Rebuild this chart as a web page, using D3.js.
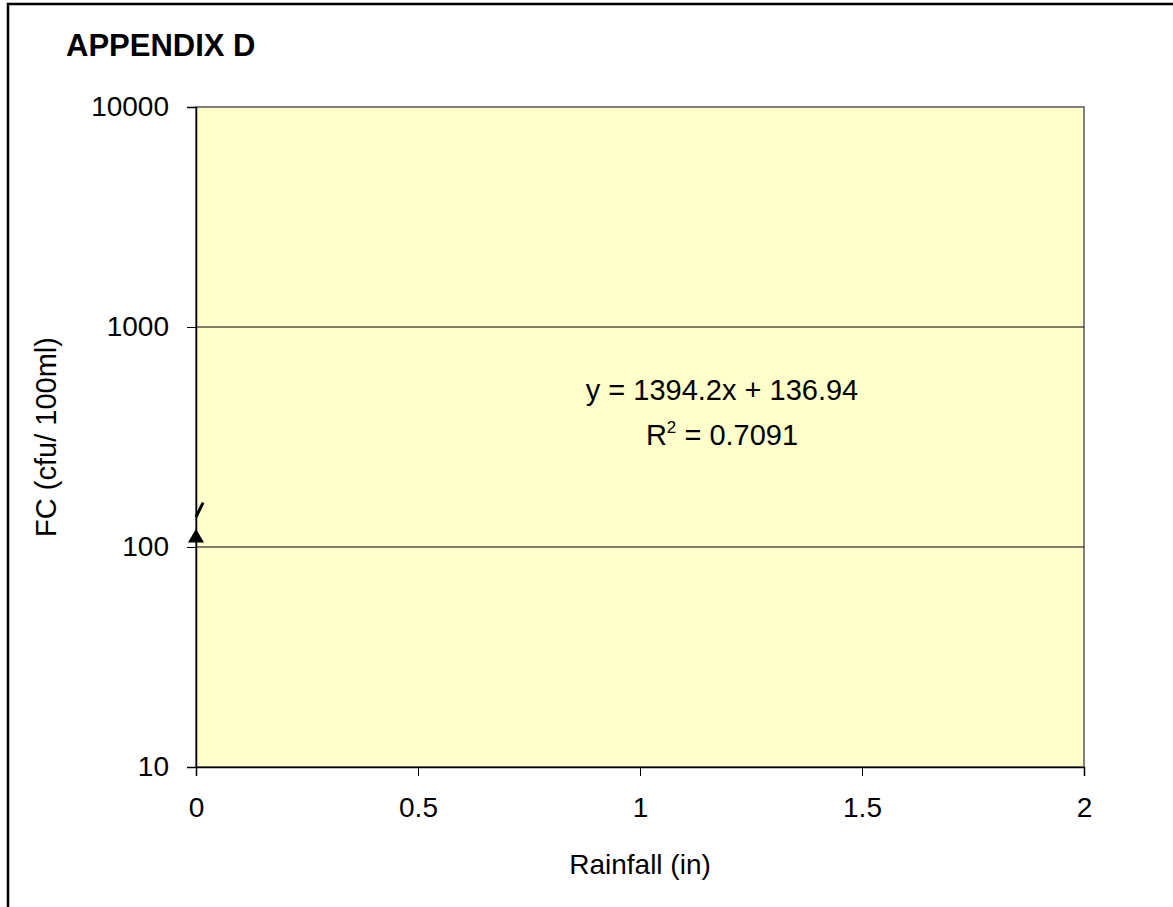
<!DOCTYPE html>
<html><head><meta charset="utf-8">
<script src="https://cdn.jsdelivr.net/npm/d3@7"></script>
<style>body{margin:0;background:#fff}svg{display:block}text{font-family:"Liberation Sans",Arial,sans-serif;fill:#000}</style>
</head><body><svg id="c" width="1173" height="907"></svg>
<script>
const rainfall = [0];
const fc = [110];
const xTicks = [0, 0.5, 1, 1.5, 2];
const yTicks = [10, 100, 1000, 10000];
const trendSlope = 1394.2, trendIntercept = 136.94;
const trendRange = [0, 0.016];
const eqText = "y = 1394.2x + 136.94";
const r2Value = "0.7091";

const svg = d3.select("#c");
const L = 196, R = 1084, T = 107, B = 767;
const FS = 28;
const x = d3.scaleLinear().domain([0, 2]).range([L, R]);
const y = d3.scaleLog().domain([10, 10000]).range([B, T]);

// outer frame
svg.append("rect").attr("x", 8).attr("y", 4).attr("width", 1300).attr("height", 1100)
  .attr("fill", "none").attr("stroke", "#000").attr("stroke-width", 2.5);

svg.append("text").attr("x", 66).attr("y", 56).attr("font-size", 31).attr("font-weight", "bold").text("APPENDIX D");

svg.append("rect").attr("x", L).attr("y", T).attr("width", R - L).attr("height", B - T)
  .attr("fill", "#FFFFCC").attr("stroke", "#808080").attr("stroke-width", 2);

// gridlines
svg.append("g").selectAll("line").data(yTicks.filter(d => d > 10 && d < 10000)).join("line")
  .attr("x1", L).attr("x2", R).attr("y1", d => y(d)).attr("y2", d => y(d))
  .attr("stroke", "#000").attr("stroke-width", 1);

const yAxis = d3.axisLeft(y).tickValues(yTicks).tickFormat(d3.format("d")).tickSize(9).tickPadding(18);
const gy = svg.append("g").attr("transform", `translate(${L},0)`).call(yAxis);
gy.select(".domain").attr("stroke", "#000").attr("stroke-width", 1.5);
gy.selectAll(".tick line").attr("stroke", "#000");
gy.selectAll(".tick text").attr("font-size", FS).attr("font-family", "Liberation Sans, Arial, sans-serif");

const xAxis = d3.axisBottom(x).tickValues(xTicks).tickFormat(d => String(d)).tickSize(9).tickPadding(21);
const gx = svg.append("g").attr("transform", `translate(0,${B})`).call(xAxis);
gx.select(".domain").attr("stroke", "#000").attr("stroke-width", 1.5);
gx.selectAll(".tick line").attr("stroke", "#000");
gx.selectAll(".tick text").attr("font-size", FS).attr("font-family", "Liberation Sans, Arial, sans-serif");

svg.append("text").attr("x", (L + R) / 2).attr("y", 874).attr("text-anchor", "middle").attr("font-size", FS).text("Rainfall (in)");
svg.append("text").attr("transform", `translate(56,${(T + B) / 2}) rotate(-90)`).attr("text-anchor", "middle").attr("font-size", 29).text("FC (cfu/ 100ml)");

// trendline
const tl = trendRange.map(v => [x(v), y(trendSlope * v + trendIntercept)]);
svg.append("path").attr("d", d3.line()(tl)).attr("stroke", "#000").attr("stroke-width", 3).attr("fill", "none");

// markers
svg.append("g").selectAll("path").data(rainfall.map((r, i) => [r, fc[i]])).join("path")
  .attr("transform", d => `translate(${x(d[0])},${y(d[1])})`)
  .attr("d", d3.symbol(d3.symbolTriangle, 110)()).attr("fill", "#000");

// equation
svg.append("text").attr("x", 722).attr("y", 400).attr("text-anchor", "middle").attr("font-size", 29).text(eqText);
const r2 = svg.append("text").attr("x", 722).attr("y", 445).attr("text-anchor", "middle").attr("font-size", 29);
r2.append("tspan").text("R");
r2.append("tspan").attr("dy", -12).attr("font-size", 17).text("2");
r2.append("tspan").attr("dy", 12).text(" = " + r2Value);
</script></body></html>
